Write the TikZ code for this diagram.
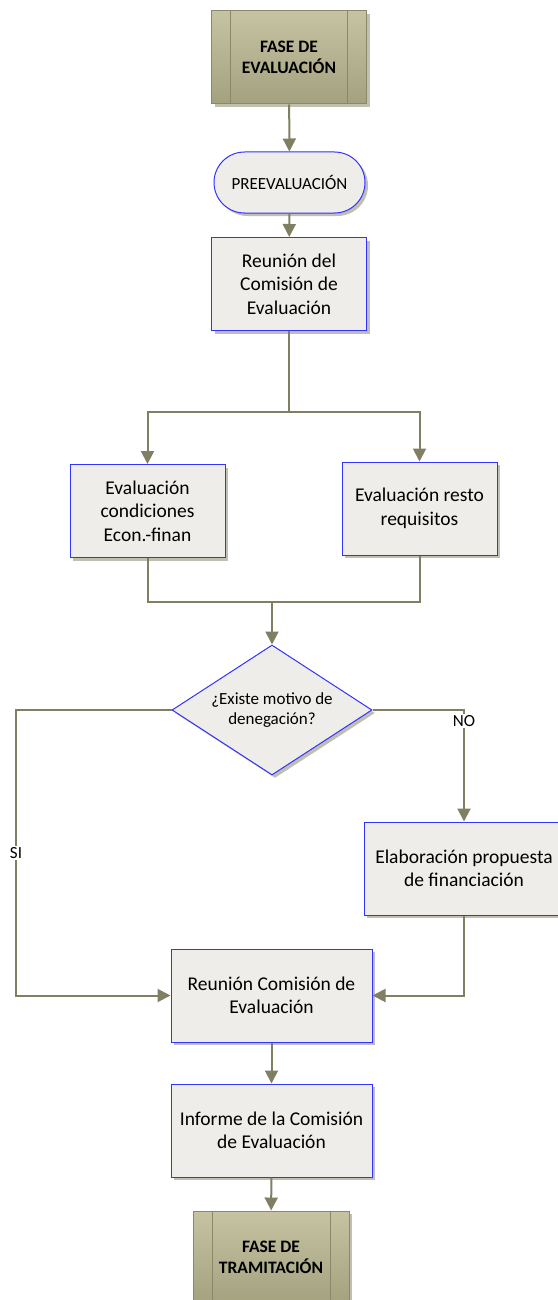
\documentclass[tikz,border=0pt]{standalone}
\usepackage{fontspec}
\setmainfont{Carlito}
\usetikzlibrary{shapes.geometric,shapes.misc,shadows,arrows.meta}
\definecolor{azul}{RGB}{51,51,255}
\definecolor{gris}{RGB}{239,237,234}
\definecolor{sombra}{RGB}{192,191,178}
\definecolor{oliva}{RGB}{128,127,100}
\definecolor{fasetop}{RGB}{197,195,162}
\definecolor{fasebot}{RGB}{163,161,126}
\definecolor{faseborde}{RGB}{138,136,104}
\tikzset{
    >={Triangle[width=13pt,length=13pt]},
    flujo/.style={draw=oliva,line width=2pt},
    sombreado/.style={drop shadow={shadow xshift=3pt,shadow yshift=-3pt,fill=sombra,opacity=1}},
    caja/.style={draw=azul,line width=1pt,fill=gris,sombreado,align=center,
        minimum width=155pt,minimum height=93pt,inner sep=2pt,
        font=\fontsize{19.5}{23.5}\selectfont},
    fase/.style={draw=faseborde,line width=1pt,top color=fasetop,bottom color=fasebot,sombreado,
        minimum width=155pt,minimum height=93pt,align=center,
        font=\fontsize{17.5}{21}\selectfont\bfseries,
        path picture={
            \draw[faseborde,line width=1pt] ([xshift=19pt]path picture bounding box.north west)--([xshift=19pt]path picture bounding box.south west);
            \draw[faseborde,line width=1pt] ([xshift=-19pt]path picture bounding box.north east)--([xshift=-19pt]path picture bounding box.south east);
        }},
    etiqueta/.style={fill=white,inner sep=1.5pt,font=\fontsize{17}{20}\selectfont}
}
\begin{document}
\begin{tikzpicture}[x=1pt,y=-1pt]
            \useasboundingbox (0,0) rectangle (557,1300);
            % cajas
            \node[fase] (faseev) at (289,57.5) {FASE DE\\EVALUACIÓN};
            \node[caja,rounded rectangle,minimum height=61pt,font=\fontsize{17}{20}\selectfont] (preev) at (289.5,182.5) {PREEVALUACIÓN};
            \node[caja] (reunion) at (289,284) {Reunión del\\Comisión de\\Evaluación};
            \node[caja] (evcond) at (147.5,511) {Evaluación\\condiciones\\Econ.-finan};
            \node[caja] (evresto) at (419.5,508.5) {Evaluación resto\\requisitos};
            \node[caja,diamond,aspect=1.54,minimum width=200pt,minimum height=130pt,inner sep=0pt,
                font=\fontsize{17}{20.5}\selectfont] (motivo) at (272,710) {¿Existe motivo de\\denegación?};
            \node[caja,minimum width=200pt] (propuesta) at (464,868.5) {Elaboración propuesta\\de financiación};
            \node[caja,minimum width=201pt] (reunion2) at (271.5,995.5) {Reunión Comisión de\\Evaluación};
            \node[caja,minimum width=201pt] (informe) at (271.5,1130.5) {Informe de la Comisión\\de Evaluación};
            \node[fase,minimum width=156pt] (fasetr) at (271,1257.5) {FASE DE\\TRAMITACIÓN};
            % puntos de paso
            \coordinate (reparto) at (289,412);
            \coordinate (union) at (272,602);
            \coordinate (siarriba) at (16,710);
            \coordinate (siabajo) at (16,995.5);
            % conectores
            \draw[flujo,->] (faseev) -- (preev);
            \draw[flujo,->] (preev) -- (reunion);
            \draw[flujo] (reunion) -- (reparto);
            \draw[flujo,->] (reparto) -| (evcond);
            \draw[flujo,->] (reparto) -| (evresto);
            \draw[flujo] (evcond) |- (union);
            \draw[flujo] (evresto) |- (union);
            \draw[flujo,->] (union) -- (motivo);
            \draw[flujo,->] (motivo.west) -- (siarriba) -- node[etiqueta] {SI} (siabajo) -- (reunion2.west);
            \draw[flujo,->] (motivo.east) -| node[etiqueta,pos=0.5,yshift=-11pt] {NO} (propuesta.north);
            \draw[flujo,->] (propuesta.south) |- (reunion2.east);
            \draw[flujo,->] (reunion2) -- (informe);
            \draw[flujo,->] (informe) -- (fasetr);
\end{tikzpicture}
\end{document}
